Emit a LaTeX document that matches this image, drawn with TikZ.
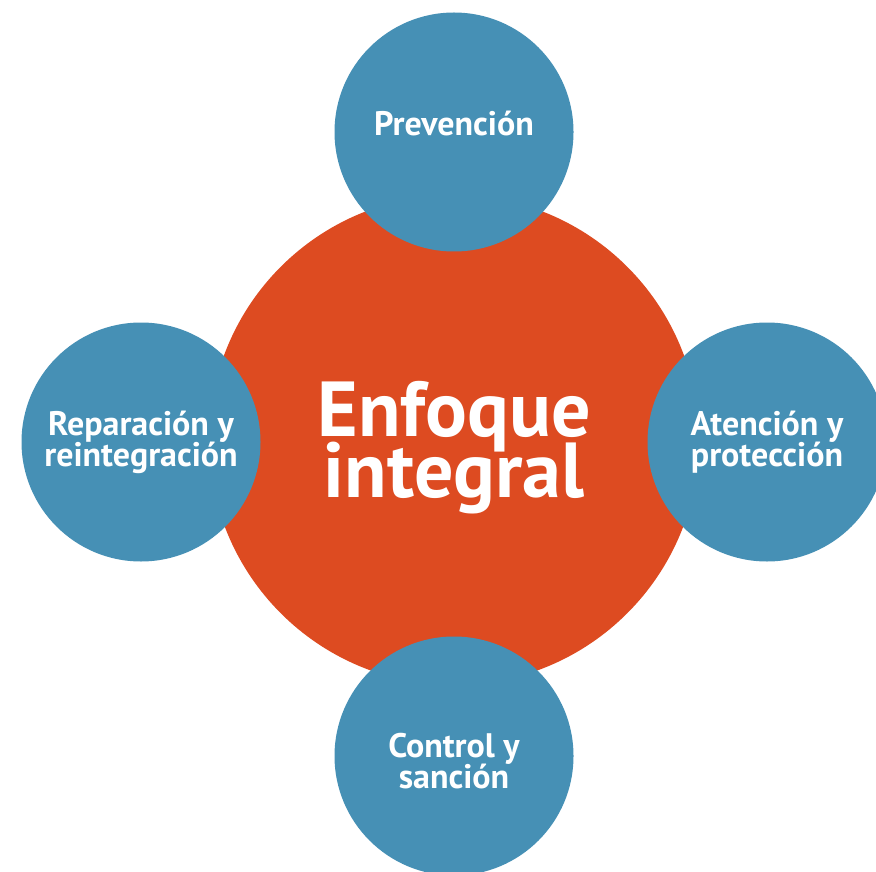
\documentclass[tikz,border=0pt]{standalone}
\usepackage{fontspec}
\setmainfont{PT Sans}
\usepackage{tikz}
\usetikzlibrary{positioning}

\definecolor{enfoqueorange}{RGB}{221,75,33}
\definecolor{ejeblue}{RGB}{70,144,181}

\begin{document}
\begin{tikzpicture}[x=0.5pt,y=-0.5pt,
core/.style={circle,fill=enfoqueorange,minimum size=245pt,inner sep=0pt},
eje/.style={circle,fill=ejeblue,minimum size=119.5pt,inner sep=0pt},
coretext/.style={text=white,align=center,inner sep=0pt,
    font={\fontsize{39}{30.5}\selectfont\bfseries\lineskiplimit=-50pt}},
ejetext/.style={text=white,align=center,inner sep=0pt,
    font={\fontsize{17}{15.5}\selectfont\bfseries\lineskiplimit=-50pt}}]
\useasboundingbox (0,0) rectangle (876,871);

\node (enfoque) [core] at (454,440) {};
\node (enfoquetext) [coretext,yshift=-4pt] at (enfoque) {Enfoque\\integral};

% ejes del enfoque
\node (prev) [eje] at (454,132) {};
\node (repar) [eje] at (141,442) {};
\node (atenc) [eje] at (767,442) {};
\node (control) [eje] at (454,756) {};

\node (prevtext) [ejetext,yshift=4.25pt] at (prev) {Prevención};
\node (repartext) [ejetext] at (repar) {Reparación y\\reintegración};
\node (atenctext) [ejetext] at (atenc) {Atención y\\protección};
\node (controltext) [ejetext,yshift=-2.5pt] at (control) {Control y\\sanción};
\end{tikzpicture}
\end{document}
